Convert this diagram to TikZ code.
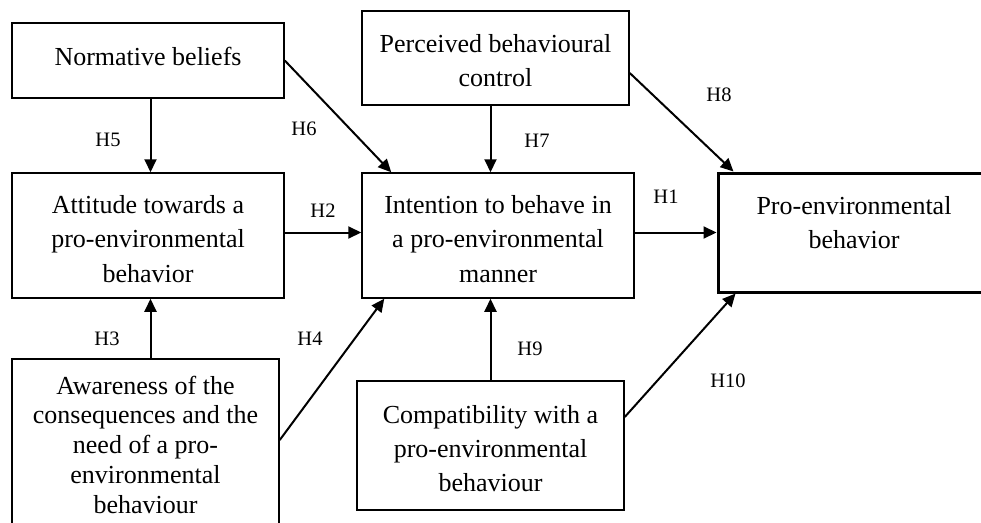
\documentclass[tikz,border=0pt]{standalone}
\usepackage{fontspec}
\setmainfont{Liberation Serif}
\usetikzlibrary{arrows.meta}
\begin{document}
\begin{tikzpicture}[x=1pt,y=-1pt,
  box/.style={draw, line width=1.5pt, inner sep=0pt, rectangle},
  thickbox/.style={draw, line width=3pt, inner sep=0pt, rectangle},
  txt/.style={align=center, inner sep=0pt, font=\fontsize{26}{34.5}\selectfont},
  lab/.style={inner sep=0pt, anchor=base, font=\fontsize{20.5}{24}\selectfont},
  arr/.style={line width=2pt, -{Triangle[length=13pt,width=12pt]}}
]
\fill[white] (0,0) rectangle (981,522);
\useasboundingbox (0,0) rectangle (981,522);

% boxes
\node[box, minimum width=272pt, minimum height=75pt] (nb) at (148,60.5) {};
\node[box, minimum width=272pt, minimum height=125pt] (att) at (148,235.5) {};
\node[box, minimum width=267pt, minimum height=186pt] (aw) at (145.5,452) {};
\node[box, minimum width=267pt, minimum height=94pt] (pbc) at (495.5,58) {};
\node[box, minimum width=272pt, minimum height=125pt] (int) at (498,235.5) {};
\node[box, minimum width=267pt, minimum height=129pt] (comp) at (490.5,445.5) {};
\node[thickbox, minimum width=277pt, minimum height=119pt] (pe) at (856.5,232.5) {};

% texts
\node[txt, anchor=base] (nbt) at (148,65) {Normative beliefs};
\node[txt] (pbct) at (495.5,62.35) {\strut Perceived behavioural\\\strut control};
\node[txt] (attt) at (148,240.6) {\strut Attitude towards a\\\strut pro-environmental\\\strut behavior};
\node[txt] (intt) at (498,240.6) {\strut Intention to behave in\\\strut a pro-environmental\\\strut manner};
\node[txt] (pet) at (854,224.35) {\strut Pro-environmental\\\strut behavior};
\node[txt, font=\fontsize{26}{29.75}\selectfont] (awt) at (145.5,447.55) {\strut Awareness of the\\\strut consequences and the\\\strut need of a pro-\\\strut environmental\\\strut behaviour};
\node[txt, font=\fontsize{26}{34}\selectfont] (compt) at (490.5,450.2) {\strut Compatibility with a\\\strut pro-environmental\\\strut behaviour};

% connectors
\draw[arr] ([xshift=2.5pt]nb.south) -- ([xshift=2.5pt]att.north);
\draw[arr] ([xshift=2.5pt]att.south |- aw.north) -- ([xshift=2.5pt]att.south);
\draw[arr] (nb.east) -- ([xshift=30pt]int.north west);
\draw[arr] (pbc.south -| comp.north) -- (int.north -| comp.north);
\draw[arr] ([yshift=-15pt]pbc.east) -- ([xshift=17pt]pe.north west);
\draw[arr] (int.east |- pe.west) -- (pe.west);
\draw[arr] ([yshift=3pt]att.east) -- ([yshift=3pt]int.west);
\draw[arr] ([yshift=12pt]aw.east) -- ([xshift=23pt]int.south west);
\draw[arr] (comp.north) -- (comp.north |- int.south);
\draw[arr] ([yshift=28.5pt]comp.east) -- ([xshift=19pt]pe.south west);

% labels
\node[lab] (h1) at (666,203) {H1};
\node[lab] (h2) at (323,217) {H2};
\node[lab] (h3) at (107,345) {H3};
\node[lab] (h4) at (310,345) {H4};
\node[lab] (h5) at (108,146) {H5};
\node[lab] (h6) at (304,135) {H6};
\node[lab] (h7) at (537,147) {H7};
\node[lab] (h8) at (719,101) {H8};
\node[lab] (h9) at (530,355) {H9};
\node[lab] (h10) at (728,387) {H10};
\end{tikzpicture}
\end{document}
